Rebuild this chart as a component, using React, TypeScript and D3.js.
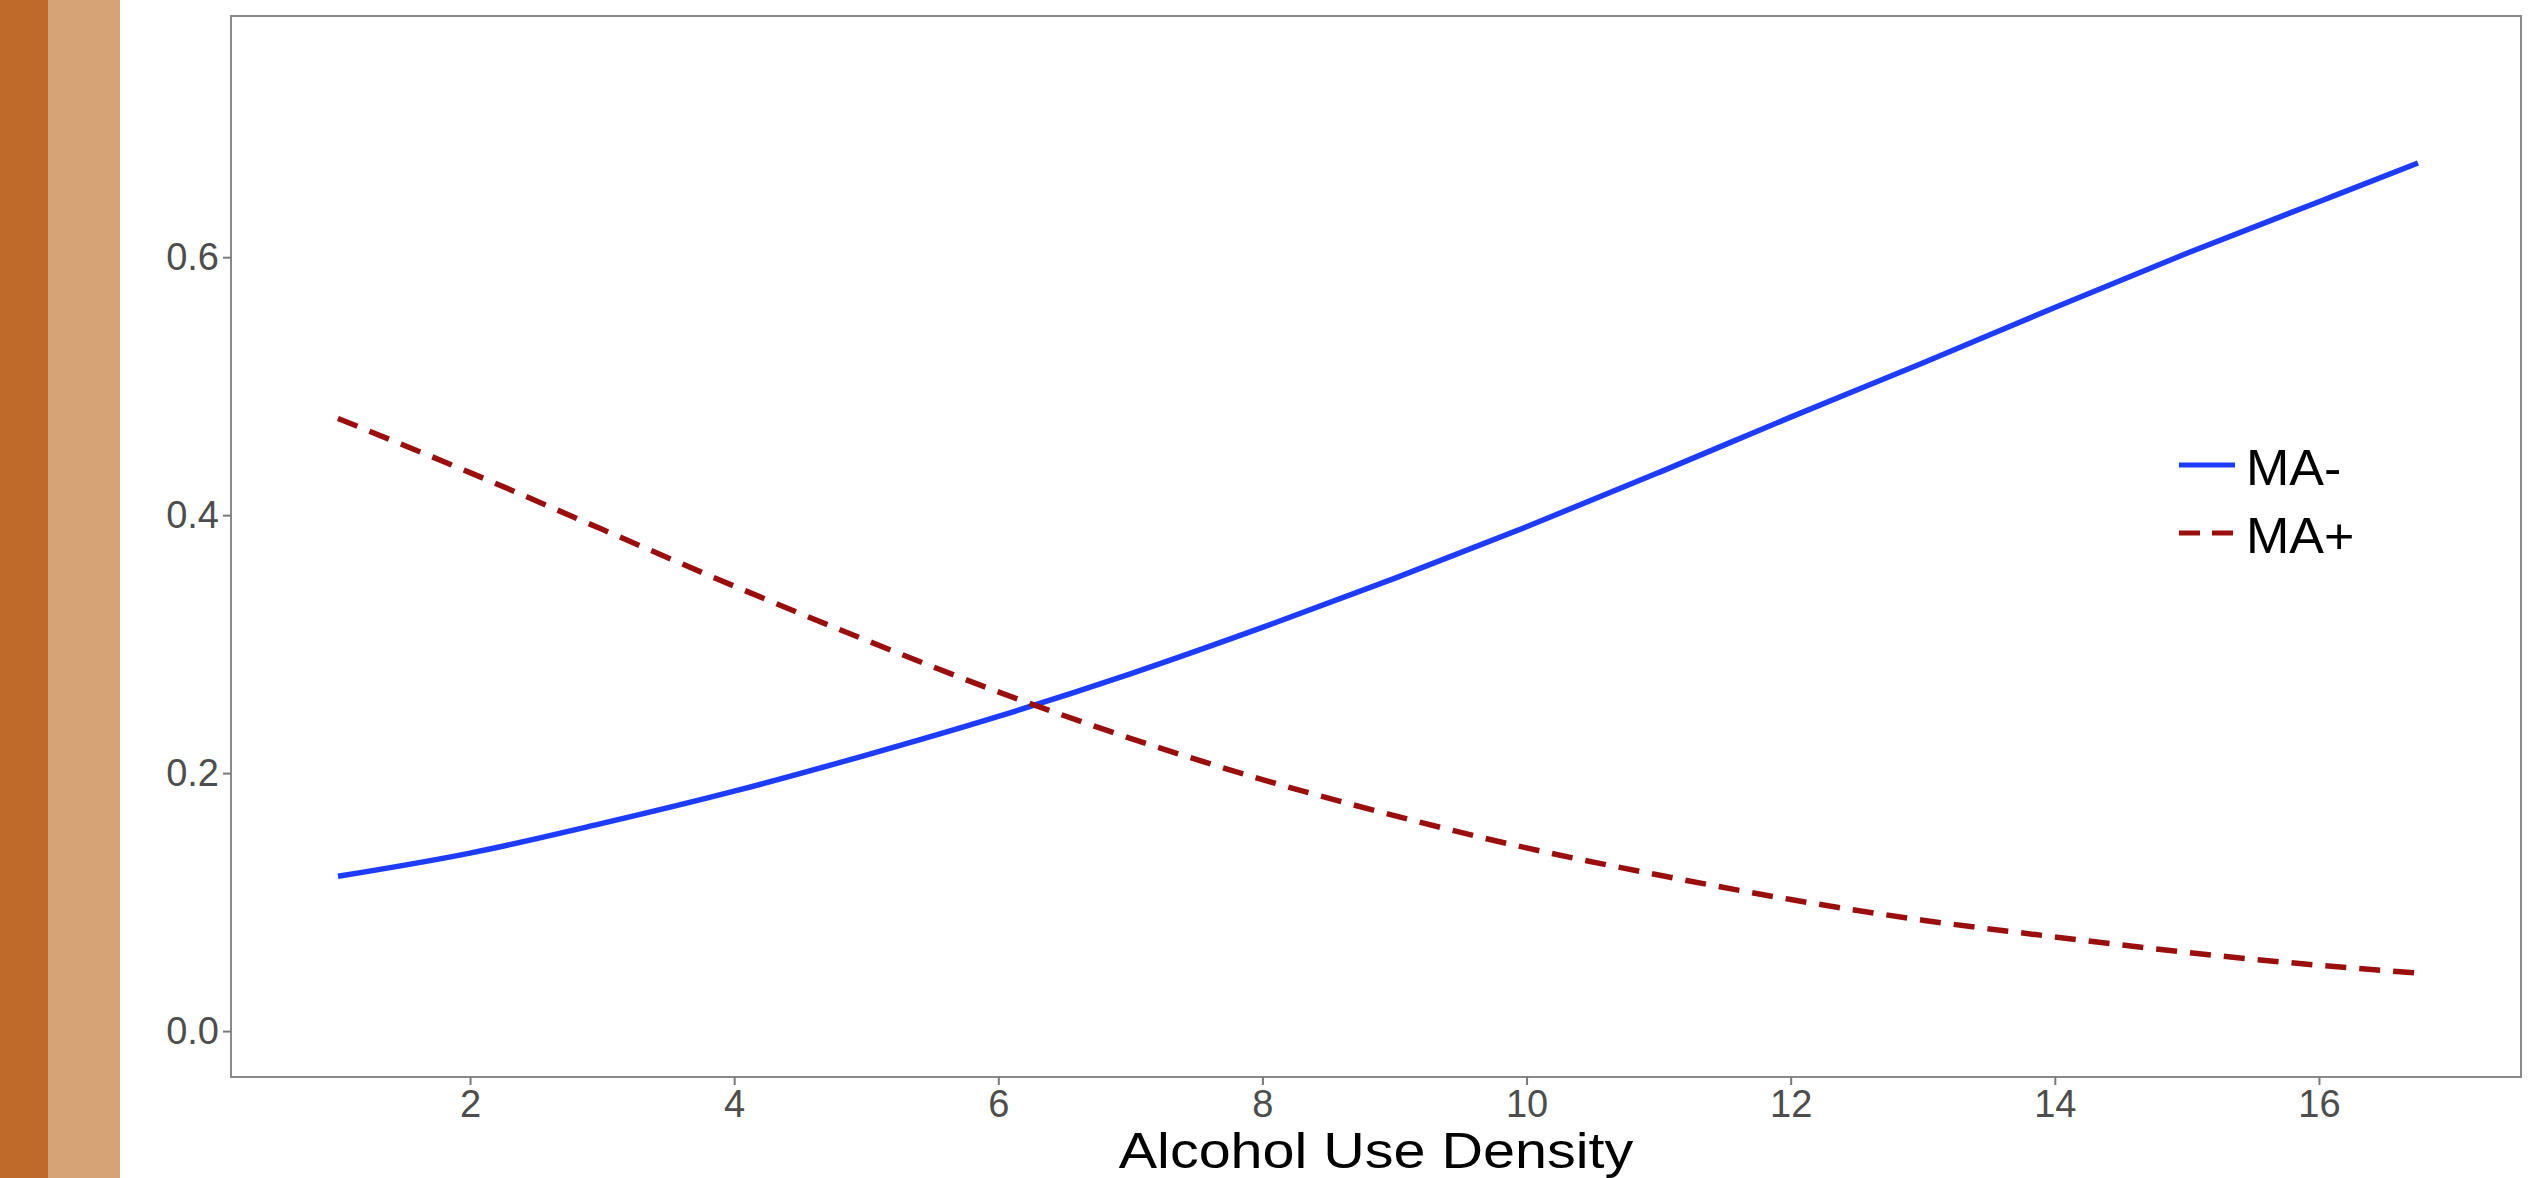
import React, { useEffect, useRef } from 'react';
import * as d3 from 'd3';

// values
const density = [1, 2, 3, 4, 5, 6, 7, 8, 9, 10, 11, 12, 13, 14, 15, 16, 16.75];
const maMinus = [0.120, 0.138, 0.161, 0.186, 0.214, 0.244, 0.277, 0.313, 0.351, 0.391, 0.433, 0.476, 0.518, 0.561, 0.603, 0.643, 0.673];
const maPlus = [0.475, 0.433, 0.389, 0.345, 0.303, 0.263, 0.227, 0.195, 0.167, 0.142, 0.121, 0.102, 0.086, 0.073, 0.061, 0.051, 0.045];
const xTicks = [2, 4, 6, 8, 10, 12, 14, 16];
const yTicks = [0, 0.2, 0.4, 0.6];
const seriesNames = ['MA-', 'MA+'];

const W = 2531;
const H = 1178;
const FONT = '"Liberation Sans", Arial, Helvetica, sans-serif';

const App = () => {
  const ref = useRef<SVGSVGElement>(null);

  useEffect(() => {
    document.body.style.margin = '0';
    document.body.style.overflow = 'hidden';
    const svg = d3.select(ref.current);
    svg.selectAll('*').remove();

    const left = 231, right = 2521, top = 16, bottom = 1077;

    // side stripes
    svg.append('rect').attr('x', 0).attr('y', 0).attr('width', 48).attr('height', H).attr('fill', '#BF6A2A');
    svg.append('rect').attr('x', 48).attr('y', 0).attr('width', 72).attr('height', H).attr('fill', '#D5A374');

    const x = d3.scaleLinear().domain([0.19, 17.53]).range([left, right]);
    const y = d3.scaleLinear().domain([-0.0356, 0.787]).range([bottom, top]);

    // panel border
    svg.append('rect')
      .attr('x', left).attr('y', top)
      .attr('width', right - left).attr('height', bottom - top)
      .attr('fill', 'white').attr('stroke', '#8a8a8a').attr('stroke-width', 2);

    // axes
    svg.append('g')
      .attr('transform', `translate(${left},0)`)
      .call(d3.axisLeft(y).tickValues(yTicks).tickFormat(d3.format('.1f')).tickSize(8).tickPadding(4))
      .call(g => g.select('.domain').remove())
      .call(g => g.selectAll('.tick line').attr('stroke', '#7a7a7a').attr('stroke-width', 2))
      .call(g => g.selectAll('.tick text')
        .attr('fill', '#4D4D4D').attr('font-size', 38).attr('font-family', FONT));

    svg.append('g')
      .attr('transform', `translate(0,${bottom})`)
      .call(d3.axisBottom(x).tickValues(xTicks).tickFormat(d3.format('d')).tickSize(8).tickPadding(5))
      .call(g => g.select('.domain').remove())
      .call(g => g.selectAll('.tick line').attr('stroke', '#7a7a7a').attr('stroke-width', 2))
      .call(g => g.selectAll('.tick text')
        .attr('fill', '#4D4D4D').attr('font-size', 38).attr('font-family', FONT));

    // lines
    const line = d3.line<number>()
      .x((_, i) => x(density[i]))
      .y(d => y(d))
      .curve(d3.curveMonotoneX);

    svg.append('path')
      .attr('d', line(maMinus))
      .attr('fill', 'none').attr('stroke', '#1E3CFF').attr('stroke-width', 5.5);

    svg.append('path')
      .attr('d', line(maPlus))
      .attr('fill', 'none').attr('stroke', '#9B0E0E').attr('stroke-width', 5.5)
      .attr('stroke-dasharray', '21,13');

    // legend
    const legendColors = ['#1E3CFF', '#9B0E0E'];
    const legendDash = [null, '21,12'];
    seriesNames.forEach((name, i) => {
      const ly = 465 + i * 68;
      svg.append('line')
        .attr('x1', 2179).attr('x2', 2235).attr('y1', ly).attr('y2', ly)
        .attr('stroke', legendColors[i]).attr('stroke-width', 5)
        .attr('stroke-dasharray', legendDash[i]);
      svg.append('text')
        .attr('transform', `translate(2246,${ly + 20}) scale(1.04,1)`)
        .attr('font-size', 50).attr('font-family', FONT).attr('fill', 'black')
        .text(name);
    });

    // x axis title
    svg.append('text')
      .attr('transform', `translate(${(left + right) / 2},1168) scale(1.15,1)`)
      .attr('text-anchor', 'middle')
      .attr('font-size', 50).attr('font-family', FONT).attr('fill', 'black')
      .text('Alcohol Use Density');
  }, []);

  return (
    <svg ref={ref} width={W} height={H} style={{ position: 'absolute', left: 0, top: 0, background: 'white' }} />
  );
};

export default App;
